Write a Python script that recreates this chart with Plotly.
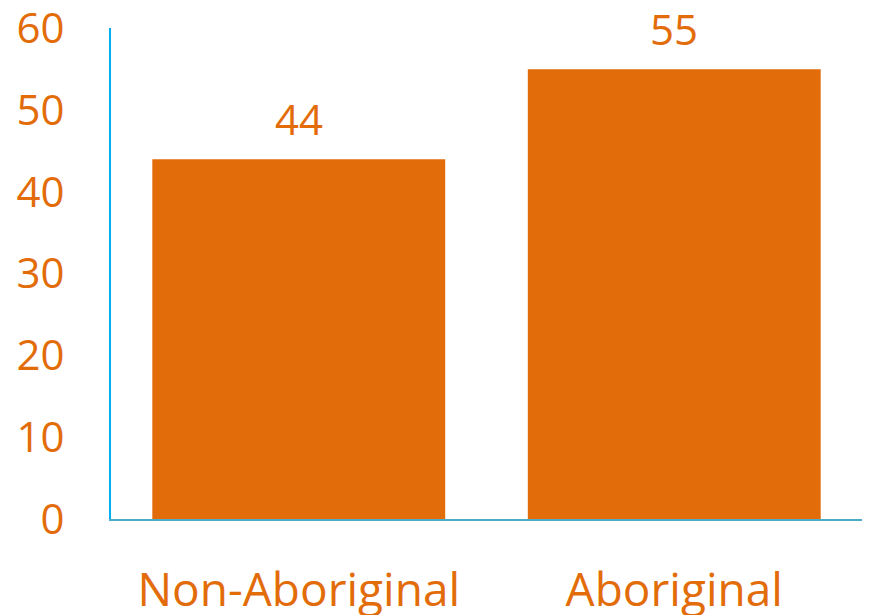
import plotly.graph_objects as go

categories = ["Non-Aboriginal", "Aboriginal"]
values = [44, 55]
y_ticks = [0, 10, 20, 30, 40, 50, 60]

orange = "#E36C0A"

fig = go.Figure()
fig.add_trace(go.Bar(
    x=categories,
    y=values,
    marker=dict(color=orange, line=dict(width=0)),
    cliponaxis=False,
))

# value labels above the bars
for c, v in zip(categories, values):
    fig.add_annotation(
        x=c, y=v, text=str(v), showarrow=False,
        yanchor="bottom", yshift=10,
        font=dict(color=orange, size=42, family="Open Sans"),
    )

# page body adds an 8px offset, so the figure is sized to fit the window
fig.update_layout(
    width=865,
    height=607,
    plot_bgcolor="white",
    paper_bgcolor="white",
    showlegend=False,
    bargap=0.22,
    font=dict(family="Open Sans", color=orange),
    margin=dict(l=103, r=11, t=20, b=96, pad=0),
    xaxis=dict(
        showline=True,
        linecolor="#4BACC6",
        linewidth=2,
        showgrid=False,
        ticks="",
        tickfont=dict(size=46, color=orange),
        ticklabelstandoff=30,
        automargin=False,
    ),
    yaxis=dict(
        range=[0, 60.05],
        tickvals=y_ticks,
        showline=True,
        linecolor="#00B0F0",
        linewidth=2,
        showgrid=False,
        zeroline=False,
        ticks="",
        tickfont=dict(size=42, color=orange),
        ticklabelstandoff=36,
        ticklabeloverflow="allow",
        automargin=False,
    ),
)

fig.write_html("out.html")
